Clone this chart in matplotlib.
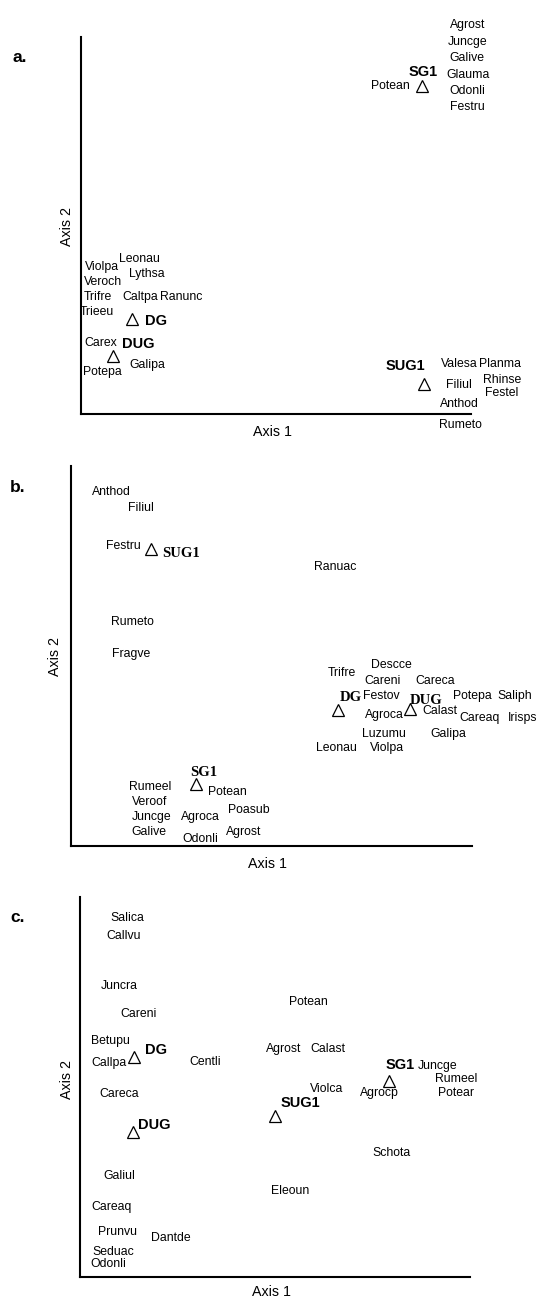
import matplotlib
matplotlib.use('Agg')
import matplotlib.pyplot as plt

plt.rcParams['font.family'] = ['Liberation Sans', 'DejaVu Sans']

# ---- panel a ----
a_sites = ['SG1', 'DG', 'DUG', 'SUG1']
a_site_x = [87.4, 13.1, 8.2, 87.9]
a_site_y = [87.0, 25.3, 15.4, 8.0]
a_lab_x = [87.7, 19.2, 14.6, 83.3]
a_lab_y = [90.7, 24.7, 18.6, 12.8]

a_spp = ['Agrost', 'Juncge', 'Galive', 'Glauma', 'Odonli', 'Festru', 'Potean',
         'Violpa', 'Leonau', 'Veroch', 'Lythsa', 'Trifre', 'Caltpa', 'Ranunc',
         'Trieeu', 'Carex', 'Galipa', 'Potepa', 'Valesa', 'Planma', 'Filiul',
         'Rhinse', 'Festel', 'Anthod', 'Rumeto']
a_spp_x = [99.2, 99.0, 99.0, 99.2, 99.0, 99.0, 79.2,
           5.4, 15.1, 5.6, 16.9, 4.4, 15.1, 25.6,
           4.1, 5.1, 16.9, 5.6, 96.9, 107.4, 96.9,
           107.9, 107.9, 96.9, 97.2]
a_spp_y = [103.2, 98.7, 94.4, 89.9, 85.6, 81.4, 87.0,
           39.1, 41.0, 35.1, 37.2, 31.1, 31.1, 31.1,
           27.1, 18.9, 13.0, 11.2, 13.3, 13.3, 7.7,
           9.0, 5.6, 2.7, -2.9]

# ---- panel b ----
b_sites = ['SUG1', 'DG', 'DUG', 'SG1']
b_site_x = [20.0, 66.6, 84.5, 31.2]
b_site_y = [78.2, 35.9, 36.1, 16.4]
b_lab_x = [27.4, 69.8, 88.5, 33.2]
b_lab_y = [77.1, 39.1, 38.3, 19.3]

b_spp = ['Anthod', 'Filiul', 'Festru', 'Ranuac', 'Rumeto', 'Fragve', 'Descce',
         'Trifre', 'Careni', 'Careca', 'Festov', 'Potepa', 'Saliph', 'Agroca',
         'Calast', 'Careaq', 'Irisps', 'Luzumu', 'Galipa', 'Leonau', 'Violpa',
         'Rumeel', 'Potean', 'Veroof', 'Poasub', 'Juncge', 'Agroca', 'Galive',
         'Agrost', 'Odonli']
b_spp_x = [10.0, 17.5, 13.0, 65.8, 15.2, 15.0, 79.8,
           67.6, 77.8, 90.8, 77.3, 100.2, 110.7, 78.1,
           92.0, 102.0, 112.7, 78.1, 94.0, 66.3, 78.8,
           19.7, 38.9, 19.5, 44.4, 20.2, 32.2, 19.5,
           43.1, 32.2]
b_spp_y = [93.2, 88.9, 78.9, 73.4, 58.9, 50.5, 47.5,
           45.6, 43.3, 43.3, 39.6, 39.6, 39.6, 34.6,
           35.6, 33.8, 33.8, 29.6, 29.6, 25.9, 25.9,
           15.6, 14.2, 11.6, 9.5, 7.7, 7.7, 3.7,
           3.7, 1.8]

# ---- panel c ----
c_sites = ['DG', 'SG1', 'SUG1', 'DUG']
c_site_x = [13.8, 79.2, 50.0, 13.6]
c_site_y = [57.9, 51.6, 42.4, 38.2]
c_lab_x = [19.5, 82.1, 56.4, 19.0]
c_lab_y = [59.7, 55.8, 45.8, 40.0]

c_spp = ['Salica', 'Callvu', 'Juncra', 'Potean', 'Careni', 'Betupu', 'Agrost',
         'Calast', 'Callpa', 'Centli', 'Juncge', 'Rumeel', 'Violca', 'Agrocp',
         'Potear', 'Careca', 'Schota', 'Galiul', 'Eleoun', 'Careaq', 'Prunvu',
         'Dantde', 'Seduac', 'Odonli']
c_spp_x = [12.1, 11.3, 10.0, 58.5, 14.9, 7.9, 52.1,
           63.6, 7.4, 32.1, 91.8, 96.4, 63.3, 76.7,
           96.4, 10.0, 80.0, 10.0, 53.8, 8.2, 9.7,
           23.3, 8.5, 7.2]
c_spp_y = [94.5, 89.7, 76.6, 72.4, 69.2, 62.1, 60.0,
           60.0, 56.3, 56.6, 55.5, 52.1, 49.5, 48.4,
           48.4, 48.2, 32.6, 26.6, 22.6, 18.4, 11.8,
           10.3, 6.6, 3.4]

W, H = 536, 1299
fig = plt.figure(figsize=(W / 100, H / 100), dpi=100)


def add_panel(box, letter, letter_xy, sites, sx, sy, lx, ly, spp, px, py,
              site_family, xlab_y, ylab_x, ylab_y):
    l, t, r, b = box
    ax = fig.add_axes([l / W, 1 - b / H, (r - l) / W, (b - t) / H])
    ax.set_xlim(0, 100)
    ax.set_ylim(0, 100)
    ax.set_xticks([])
    ax.set_yticks([])
    ax.patch.set_alpha(0)
    for s in ['top', 'right']:
        ax.spines[s].set_visible(False)
    for s in ['left', 'bottom']:
        ax.spines[s].set_linewidth(1.5)
        ax.spines[s].set_color('black')
    ax.plot(sx, sy, ls='none', marker='^', ms=8, mfc='none', mec='black',
            mew=0.9, clip_on=False)
    for name, x, y in zip(sites, lx, ly):
        ax.text(x, y, name, ha='center', va='center', fontsize=10.5,
                fontweight='bold', family=site_family)
    for name, x, y in zip(spp, px, py):
        ax.text(x, y, name, ha='center', va='center', fontsize=8.8)
    ax.text(0.49, xlab_y, 'Axis 1', transform=ax.transAxes, ha='center',
            va='center', fontsize=10.3)
    ax.text(ylab_x, ylab_y, 'Axis 2', transform=ax.transAxes, ha='center',
            va='center', rotation=90, fontsize=10.3)
    fig.text(letter_xy[0] / W, 1 - letter_xy[1] / H, letter, ha='center',
             va='center', fontsize=12.5, fontweight='bold')
    return ax


add_panel((81, 37, 471, 414), 'a.', (20, 58), a_sites, a_site_x, a_site_y,
          a_lab_x, a_lab_y, a_spp, a_spp_x, a_spp_y,
          ['Liberation Sans', 'DejaVu Sans'], -0.048, -0.036, 0.497)
add_panel((71, 466, 472, 846), 'b.', (18, 487), b_sites, b_site_x, b_site_y,
          b_lab_x, b_lab_y, b_spp, b_spp_x, b_spp_y,
          ['Liberation Serif', 'DejaVu Serif'], -0.047, -0.04, 0.50)
add_panel((80, 897, 470, 1277), 'c.', (18, 917), c_sites, c_site_x, c_site_y,
          c_lab_x, c_lab_y, c_spp, c_spp_x, c_spp_y,
          ['Liberation Sans', 'DejaVu Sans'], -0.039, -0.033, 0.52)

fig.savefig('out.png', dpi=100)
